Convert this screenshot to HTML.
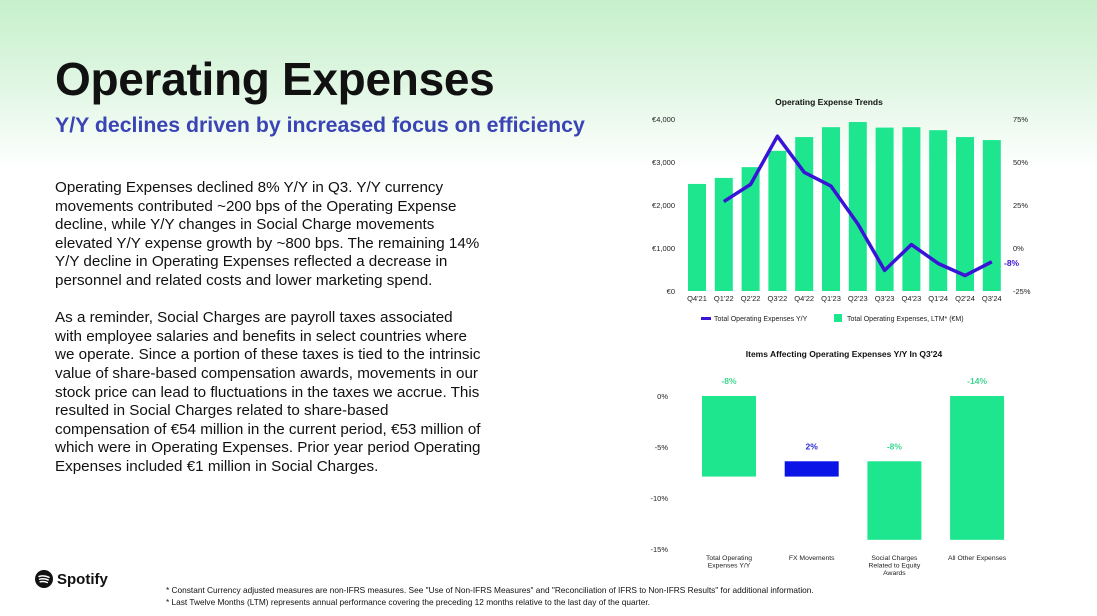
<!DOCTYPE html>
<html><head><meta charset="utf-8"><style>
body{margin:0;width:1097px;height:616px;overflow:hidden;font-family:"Liberation Sans",Arial,sans-serif;background:linear-gradient(180deg,#c6f0cb 0px,#e2f7e5 90px,#ffffff 170px,#ffffff 616px);position:relative}
.t{position:absolute;margin:0}
</style></head><body>
<h1 class="t" style="left:55px;top:52px;font-size:46px;font-weight:bold;color:#111;letter-spacing:-0.3px">Operating Expenses</h1>
<h2 class="t" style="left:55px;top:113px;font-size:21.3px;font-weight:bold;color:#3a44b4">Y/Y declines driven by increased focus on efficiency</h2>
<div class="t" style="left:55px;top:179px;white-space:nowrap;font-size:15.2px;line-height:18.6px;color:#111">
<p style="margin:0 0 18.6px">Operating Expenses declined 8% Y/Y in Q3. Y/Y currency<br>movements contributed ~200 bps of the Operating Expense<br>decline, while Y/Y changes in Social Charge movements<br>elevated Y/Y expense growth by ~800 bps. The remaining 14%<br>Y/Y decline in Operating Expenses reflected a decrease in<br>personnel and related costs and lower marketing spend.</p>
<p style="margin:0">As a reminder, Social Charges are payroll taxes associated<br>with employee salaries and benefits in select countries where<br>we operate. Since a portion of these taxes is tied to the intrinsic<br>value of share-based compensation awards, movements in our<br>stock price can lead to fluctuations in the taxes we accrue. This<br>resulted in Social Charges related to share-based<br>compensation of €54 million in the current period, €53 million of<br>which were in Operating Expenses. Prior year period Operating<br>Expenses included €1 million in Social Charges.</p>
</div>
<div class="t" style="left:35px;top:570px;display:flex;align-items:center;gap:4px">
<svg width="18" height="18" viewBox="0 0 18 18"><circle cx="9" cy="9" r="9" fill="#111"/><path d="M4 6.5Q9 5 14 7.3M4.6 9.2Q9 8 13.2 9.9M5.2 11.8Q9 11 12.3 12.5" stroke="#fff" stroke-width="1.5" fill="none" stroke-linecap="round"/></svg>
<span style="font-size:15px;font-weight:bold;color:#111">Spotify</span></div>
<div class="t" style="left:166px;top:584px;font-size:8.3px;line-height:12px;color:#111">* Constant Currency adjusted measures are non-IFRS measures. See "Use of Non-IFRS Measures" and "Reconciliation of IFRS to Non-IFRS Results" for additional information.<br>* Last Twelve Months (LTM) represents annual performance covering the preceding 12 months relative to the last day of the quarter.</div>
<svg id="c1" style="position:absolute;left:0;top:0" width="1097" height="616" font-family="Liberation Sans, Arial, sans-serif"></svg>
<script>
const quarters=["Q4'21","Q1'22","Q2'22","Q3'22","Q4'22","Q1'23","Q2'23","Q3'23","Q4'23","Q1'24","Q2'24","Q3'24"];
const ltmValues=[2490,2630,2880,3260,3580,3810,3930,3800,3810,3740,3580,3510];
const yoyValues=[null,27,37,65,44,36,14,-13,2,-9,-16,-8];
const leftTicks=["€0","€1,000","€2,000","€3,000","€4,000"];
const rightTicks=["-25%","0%","25%","50%","75%"];
const itemCats=[["Total Operating","Expenses Y/Y"],["FX Movements"],["Social Charges","Related to Equity","Awards"],["All Other Expenses"]];
const itemFrom=[0,-7.9,-6.4,0];
const itemTo=[-7.9,-6.4,-14.1,-14.1];
const itemLabels=["-8%","2%","-8%","-14%"];
const bottomTicks=["0%","-5%","-10%","-15%"];
const NS="http://www.w3.org/2000/svg";
const svg=document.getElementById('c1');
function mk(tag,attrs,parent){const e=document.createElementNS(NS,tag);for(const k in attrs)e.setAttribute(k,attrs[k]);(parent||svg).appendChild(e);return e;}
function txt(s,attrs){const e=mk('text',attrs);e.textContent=s;return e;}
const x0=697,step=26.8;
const xq=i=>x0+i*step;
const yL=v=>291-v/4000*172;
const yR=p=>291-(p+25)/100*172;
let t=txt('Operating Expense Trends',{x:829,y:105,'font-size':8.5,'font-weight':'bold','text-anchor':'middle',fill:'#111'});


leftTicks.forEach((s,i)=>{const e=txt(s,{x:675,y:yL(i*1000)+3,'font-size':7.5,'text-anchor':'end',fill:'#222'});

});
rightTicks.forEach((s,i)=>{const e=txt(s,{x:1013,y:yR(-25+i*25)+3,'font-size':7.5,fill:'#222'});

});
ltmValues.forEach((v,i)=>{const r=mk('rect',{x:xq(i)-9,y:yL(v),width:18,height:291-yL(v),fill:'#1ee68f'});


const e=txt(quarters[i],{x:xq(i),y:301,'font-size':7.5,'text-anchor':'middle',fill:'#222'});

});
let pts=[];yoyValues.forEach((v,i)=>{if(v!==null)pts.push(xq(i)+','+yR(v));});
const ln=mk('polyline',{points:pts.join(' '),fill:'none',stroke:'#3a14d6','stroke-width':3.5,'stroke-linejoin':'round'});


const last=yoyValues[yoyValues.length-1];
t=txt(last+'%',{x:1004,y:yR(last)+4,'font-size':8.5,'font-weight':'bold',fill:'#3a14d6'});


const lg1=mk('rect',{x:701,y:317,width:10,height:3,fill:'#3a14d6'});


t=txt('Total Operating Expenses Y/Y',{x:714,y:321,'font-size':7,fill:'#222'});


const lg2=mk('rect',{x:834,y:314,width:8,height:8,fill:'#1ee68f'});


t=txt('Total Operating Expenses, LTM* (€M)',{x:847,y:321,'font-size':7,fill:'#222'});


t=txt("Items Affecting Operating Expenses Y/Y In Q3'24",{x:844,y:357,'font-size':8.5,'font-weight':'bold','text-anchor':'middle',fill:'#111'});


const yB=p=>396-p/15*153;
const xc=i=>729+i*82.7;
bottomTicks.forEach((s,i)=>{const e=txt(s,{x:668,y:yB(-5*i)+3,'font-size':7.5,'text-anchor':'end',fill:'#222'});

});
itemFrom.forEach((f,i)=>{const a=Math.max(f,itemTo[i]),b=Math.min(f,itemTo[i]);const up=itemTo[i]>f;
const r=mk('rect',{x:xc(i)-27,y:yB(a),width:54,height:yB(b)-yB(a),fill:up?'#0a14e6':'#1ee68f'});


const e=txt(itemLabels[i],{x:xc(i),y:yB(a)-12,'font-size':8.5,'font-weight':'bold','text-anchor':'middle',fill:up?'#2a2ad8':'#3ed690'});


itemCats[i].forEach((s,j)=>{const c=txt(s,{x:xc(i),y:560+j*7.5,'font-size':6.8,'text-anchor':'middle',fill:'#222'});

});});
</script>
</body></html>
